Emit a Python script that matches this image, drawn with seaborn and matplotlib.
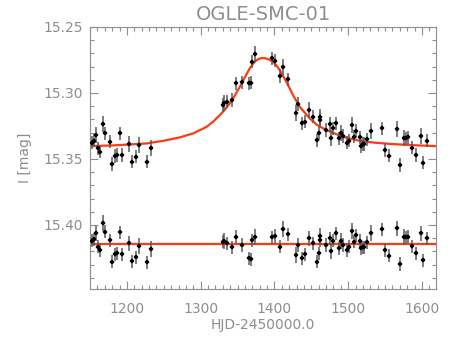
import numpy as np
import pandas as pd
import matplotlib
matplotlib.use("Agg")
import matplotlib.pyplot as plt
import seaborn as sns
from matplotlib.ticker import MultipleLocator

# observation epochs (HJD-2450000)
hjd = [1152.7, 1154.9, 1158.1, 1160.8, 1163.9, 1167.0, 1170.7, 1176.5, 1179.7, 1183.2,
       1186.5, 1190.0, 1192.7, 1203.1, 1206.8, 1212.6, 1216.6, 1227.8, 1233.2,
       1329.7, 1331.5, 1335.1, 1341.9, 1347.3, 1355.4, 1365.7, 1367.6, 1369.3, 1374.3,
       1396.8, 1401.4, 1408.1, 1411.6, 1418.4, 1429.7, 1431.9, 1437.8, 1441.0, 1446.8,
       1452.2, 1458.1, 1459.9, 1461.2, 1462.2, 1470.3, 1474.7, 1477.0, 1479.2, 1483.8,
       1486.9, 1490.5, 1492.7, 1498.1, 1500.4, 1504.5, 1508.5, 1510.8, 1515.3, 1517.6,
       1519.7, 1522.0, 1525.7, 1531.1, 1546.0, 1550.4, 1554.9, 1566.6, 1570.7, 1575.2,
       1578.4, 1581.1, 1586.0, 1591.9, 1598.1, 1600.8, 1606.2]

# I-band magnitudes of the event
mag = [15.3377, 15.3362, 15.3319, 15.3419, 15.3445, 15.3238, 15.3306, 15.3369, 15.3538, 15.3478,
       15.3470, 15.3306, 15.3470, 15.3387, 15.3521, 15.3483, 15.3394, 15.3521, 15.3415,
       15.3091, 15.3078, 15.3066, 15.3053, 15.2927, 15.2919, 15.2927, 15.2922, 15.2763, 15.2707,
       15.2737, 15.2755, 15.2871, 15.2801, 15.2896, 15.3150, 15.3084, 15.3230, 15.3218, 15.3129,
       15.3180, 15.3357, 15.3306, 15.3180, 15.3205, 15.3281, 15.3235, 15.3344, 15.3268, 15.3230,
       15.3344, 15.3306, 15.3326, 15.3377, 15.3362, 15.3243, 15.3332, 15.3288, 15.3336, 15.3402,
       15.3387, 15.3387, 15.3351, 15.3288, 15.3268, 15.3432, 15.3476, 15.3273, 15.3546, 15.3344,
       15.3344, 15.3336, 15.3415, 15.3470, 15.3324, 15.3529, 15.3362]

# residuals shifted to the lower reference level
mag_res = [15.4120, 15.4109, 15.4064, 15.4165, 15.4190, 15.3983, 15.4052, 15.4115, 15.4279, 15.4221,
           15.4215, 15.4056, 15.4221, 15.4140, 15.4274, 15.4246, 15.4160, 15.4284, 15.4185,
           15.4127, 15.4120, 15.4140, 15.4170, 15.4090, 15.4152, 15.4253, 15.4261, 15.4115, 15.4090,
           15.4094, 15.4084, 15.4165, 15.4031, 15.4071, 15.4228, 15.4152, 15.4253, 15.4223, 15.4102,
           15.4140, 15.4279, 15.4215, 15.4084, 15.4115, 15.4152, 15.4102, 15.4198, 15.4120, 15.4064,
           15.4178, 15.4122, 15.4152, 15.4190, 15.4165, 15.4044, 15.4127, 15.4077, 15.4120, 15.4178,
           15.4170, 15.4170, 15.4132, 15.4059, 15.4033, 15.4190, 15.4234, 15.4026, 15.4296, 15.4090,
           15.4094, 15.4090, 15.4160, 15.4215, 15.4064, 15.4266, 15.4102]

mag_err = [0.005, 0.005, 0.006, 0.005, 0.005, 0.006, 0.005, 0.005, 0.005, 0.005,
           0.005, 0.005, 0.005, 0.006, 0.005, 0.005, 0.006, 0.005, 0.006,
           0.005, 0.006, 0.005, 0.005, 0.005, 0.005, 0.005, 0.005, 0.005, 0.006,
           0.005, 0.005, 0.005, 0.006, 0.005, 0.006, 0.005, 0.005, 0.005, 0.006,
           0.005, 0.005, 0.005, 0.006, 0.005, 0.005, 0.005, 0.006, 0.005, 0.005,
           0.005, 0.006, 0.005, 0.005, 0.005, 0.006, 0.005, 0.005, 0.005, 0.005,
           0.005, 0.005, 0.005, 0.006, 0.005, 0.005, 0.005, 0.006, 0.005, 0.006,
           0.005, 0.005, 0.005, 0.005, 0.006, 0.005, 0.005]

# model light curve
model_hjd = [1150.5, 1181.9, 1227.0, 1249.5, 1272.0, 1290.0, 1308.1, 1317.0, 1326.1, 1333.0,
             1339.6, 1346.0, 1353.1, 1360.0, 1366.6, 1371.5, 1375.7, 1379.5, 1382.8, 1386.0,
             1389.2, 1393.5, 1398.1, 1402.5, 1407.2, 1416.2, 1425.1, 1434.2, 1447.7, 1458.0,
             1470.3, 1492.7, 1515.3, 1537.0, 1560.3, 1590.0, 1618.0]
model_mag = [15.3402, 15.3397, 15.3382, 15.3362, 15.3336, 15.3306, 15.3256, 15.3217, 15.3167, 15.3125,
             15.3078, 15.3022, 15.2953, 15.2880, 15.2813, 15.2775, 15.2752, 15.2740, 15.2735, 15.2735,
             15.2740, 15.2749, 15.2763, 15.2790, 15.2826, 15.2915, 15.3015, 15.3104, 15.3192, 15.3243,
             15.3281, 15.3332, 15.3362, 15.3377, 15.3387, 15.3396, 15.3402]
res_level = 15.4145

GREY = "#8e8e8e"
RED = "#ff3a10"

sns.set_style("ticks")
plt.rcParams["font.family"] = ["DejaVu Sans"]

df = pd.DataFrame({"hjd": hjd, "mag": mag, "res": mag_res, "err": mag_err})
model = pd.DataFrame({"hjd": model_hjd, "mag": model_mag})

fig = plt.figure(figsize=(4.63, 3.47), dpi=100)
ax = fig.add_axes([0.1944, 0.1671, 0.7473, 0.7551])

sns.lineplot(data=model, x="hjd", y="mag", color=RED, lw=1.6, ax=ax, zorder=1)
ax.axhline(res_level, color=RED, lw=1.6, zorder=1)

for col in ["mag", "res"]:
    ax.errorbar(df["hjd"], df[col], yerr=df["err"], fmt="none", ecolor="#5a5a5a",
                elinewidth=1.1, zorder=2)
    sns.scatterplot(data=df, x="hjd", y=col, marker="P", s=7, color="black",
                    edgecolor="black", linewidth=0.2, ax=ax, zorder=3)

ax.set_xlim(1150, 1619)
ax.set_ylim(15.4485, 15.25)
ax.xaxis.set_major_locator(MultipleLocator(100))
ax.xaxis.set_minor_locator(MultipleLocator(10))
ax.yaxis.set_major_locator(MultipleLocator(0.05))
ax.yaxis.set_minor_locator(MultipleLocator(0.01))
ax.yaxis.set_major_formatter(matplotlib.ticker.FormatStrFormatter("%.2f"))

ax.tick_params(which="both", direction="in", top=True, right=True, color=GREY,
               labelcolor=GREY, labelsize=10, width=0.8)
ax.tick_params(axis="x", which="major", length=6, pad=9)
ax.tick_params(axis="y", which="major", length=6, pad=5)
ax.tick_params(which="minor", length=3)
for s in ax.spines.values():
    s.set_color(GREY)
    s.set_linewidth(0.8)

ax.set_title("OGLE-SMC-01", color=GREY, fontsize=14, pad=5)
ax.set_xlabel("HJD-2450000.0", color=GREY, fontsize=10, labelpad=2)
ax.set_ylabel("I [mag]", color=GREY, fontsize=10, labelpad=8)

fig.savefig("out.png", dpi=100)
